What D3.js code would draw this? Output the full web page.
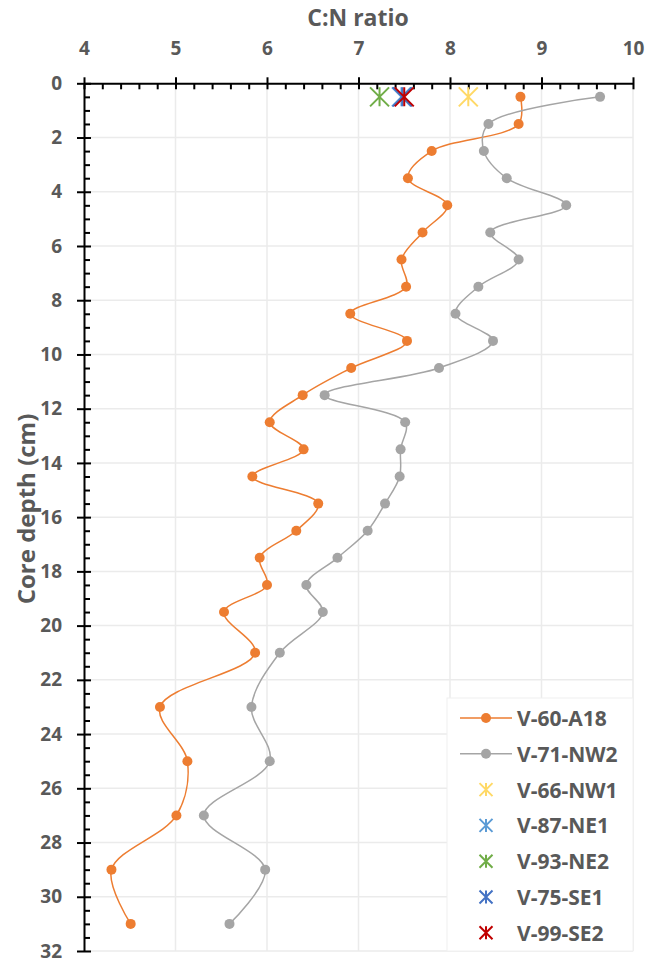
<!DOCTYPE html>
<html>
<head>
<meta charset="utf-8">
<script src="https://cdn.jsdelivr.net/npm/d3@7"></script>
<style>
  body { margin: 0; background: #fff; }
  text { font-family: "Open Sans", sans-serif; font-weight: bold; fill: #595959; }
</style>
</head>
<body>
<div id="chart"></div>
<script>

// depths of the two cores (cm)
var depths = [0.5, 1.5, 2.5, 3.5, 4.5, 5.5, 6.5, 7.5, 8.5, 9.5, 10.5, 11.5, 12.5, 13.5,
    14.5, 15.5, 16.5, 17.5, 18.5, 19.5, 21, 23, 25, 27, 29, 31];

var cnA18 = [8.77, 8.75, 7.80, 7.54, 7.97, 7.70, 7.47, 7.52, 6.91, 7.53, 6.92, 6.39, 6.03,
    6.40, 5.84, 6.56, 6.32, 5.92, 6.00, 5.53, 5.87, 4.83, 5.13, 5.01, 4.30, 4.51];

var cnNW2 = [9.64, 8.42, 8.37, 8.62, 9.27, 8.44, 8.75, 8.31, 8.06, 8.47, 7.88, 6.63, 7.51,
    7.46, 7.45, 7.29, 7.10, 6.77, 6.43, 6.61, 6.14, 5.83, 6.03, 5.31, 5.98, 5.59];

// surface samples, single value each
var surfNames = ["V-66-NW1", "V-87-NE1", "V-93-NE2", "V-75-SE1", "V-99-SE2"];
var surfValues = [8.20, 7.47, 7.23, 7.48, 7.50];
var surfDepth = 0.5;

var lineNames = ["V-60-A18", "V-71-NW2"];
var xTicks = [4, 5, 6, 7, 8, 9, 10];
var yTicks = d3.range(0, 33, 2);

var lineColors = ["#ED7D31", "#A5A5A5"];
var surfColors = ["#FFD966", "#5B9BD5", "#70AD47", "#4472C4", "#C00000"];

var svgWidth = 647;
var svgHeight = 961;

var svg = d3.select("#chart")
    .append("svg")
    .attr("width", svgWidth)
    .attr("height", svgHeight);

var x = d3.scaleLinear().domain([4, 10]).range([84, 633]);
var y = d3.scaleLinear().domain([0, 32]).range([83.3, 951]);

// gridlines
svg.append("g").selectAll("line")
    .data(xTicks.slice(1))
    .enter()
    .append("line")
    .attr("x1", d => x(d)).attr("x2", d => x(d))
    .attr("y1", y(0)).attr("y2", y(32))
    .attr("stroke", "#ebebeb")
    .attr("stroke-width", 1.5);

svg.append("g").selectAll("line")
    .data(yTicks.slice(1))
    .enter()
    .append("line")
    .attr("x1", x(4)).attr("x2", x(10))
    .attr("y1", d => y(d)).attr("y2", d => y(d))
    .attr("stroke", "#ebebeb")
    .attr("stroke-width", 1.5);

// minor ticks
var xMinor = d3.range(4, 10.001, 0.2).filter(v => Math.abs(v - Math.round(v)) > 0.01);
var yMinor = d3.range(0, 32.001, 0.5).filter(v => v % 2 !== 0);

svg.append("g")
    .attr("transform", `translate(0, ${y(0)})`)
    .call(d3.axisTop(x).tickValues(xMinor).tickSize(-6).tickSizeOuter(0).tickFormat(""))
    .call(g => g.select(".domain").remove())
    .selectAll("line").attr("stroke", "#000").attr("stroke-width", 2);

svg.append("g")
    .attr("transform", `translate(${x(4)}, 0)`)
    .call(d3.axisLeft(y).tickValues(yMinor).tickSize(-6).tickSizeOuter(0).tickFormat(""))
    .call(g => g.select(".domain").remove())
    .selectAll("line").attr("stroke", "#000").attr("stroke-width", 2);

// major axes
var xAxis = svg.append("g")
    .attr("transform", `translate(0, ${y(0)})`)
    .call(d3.axisTop(x).tickValues(xTicks).tickFormat(d3.format("d"))
        .tickSize(6).tickSizeOuter(0).tickPadding(22));

xAxis.selectAll(".tick line").attr("y1", 6);
xAxis.selectAll("line, path").attr("stroke", "#000").attr("stroke-width", 2);
xAxis.selectAll("text").attr("font-size", "19px").attr("fill", "#595959");

var yAxis = svg.append("g")
    .attr("transform", `translate(${x(4)}, 0)`)
    .call(d3.axisLeft(y).tickValues(yTicks).tickSize(7).tickSizeOuter(0).tickPadding(15));

yAxis.selectAll(".tick line").attr("x1", 7);
yAxis.selectAll("line, path").attr("stroke", "#000").attr("stroke-width", 2);
yAxis.selectAll("text").attr("font-size", "19px").attr("fill", "#595959");

// axis titles
svg.append("text")
    .attr("x", 358)
    .attr("y", 17)
    .attr("text-anchor", "middle")
    .attr("dominant-baseline", "central")
    .attr("font-size", "23px")
    .text("C:N ratio");

svg.append("text")
    .attr("transform", `translate(25, 509) rotate(-90)`)
    .attr("text-anchor", "middle")
    .attr("dominant-baseline", "central")
    .attr("font-size", "24px")
    .text("Core depth (cm)");

// smoothed lines with markers
var lineGen = d3.line()
    .x(d => x(d[1]))
    .y(d => y(d[0]))
    .curve(d3.curveCatmullRom.alpha(0.5));

[cnA18, cnNW2].forEach(function(vals, i) {
    var pts = depths.map((dep, j) => [dep, vals[j]]);
    svg.append("path")
        .datum(pts)
        .attr("d", lineGen)
        .attr("fill", "none")
        .attr("stroke", lineColors[i])
        .attr("stroke-width", 1.5);
    svg.append("g").selectAll("circle")
        .data(pts)
        .enter()
        .append("circle")
        .attr("cx", d => x(d[1]))
        .attr("cy", d => y(d[0]))
        .attr("r", 5)
        .attr("fill", lineColors[i]);
});

function star(s) {
    return `M${-s},${-s}L${s},${s}M${-s},${s}L${s},${-s}M0,${-s}L0,${s}`;
}

svg.append("g").selectAll("path")
    .data(surfValues)
    .enter()
    .append("path")
    .attr("transform", d => `translate(${x(d)}, ${y(surfDepth)})`)
    .attr("d", star(9.5))
    .attr("fill", "none")
    .attr("stroke", (d, i) => surfColors[i])
    .attr("stroke-width", 2);

// legend
var legend = svg.append("g");

legend.append("rect")
    .attr("x", 447).attr("y", 698)
    .attr("width", 186).attr("height", 253)
    .attr("fill", "#fff")
    .attr("stroke", "#f0f0f0");

var legendNames = lineNames.concat(surfNames);
var legendColors = lineColors.concat(surfColors);

legendNames.forEach(function(name, i) {
    var ly = 718 + i * 35.8;
    var row = legend.append("g").attr("transform", `translate(0, ${ly})`);
    if (i < 2) {
        row.append("line")
            .attr("x1", 460).attr("x2", 512)
            .attr("stroke", legendColors[i])
            .attr("stroke-width", 1.5);
        row.append("circle")
            .attr("cx", 486).attr("r", 5)
            .attr("fill", legendColors[i]);
    } else {
        row.append("path")
            .attr("transform", "translate(486, 0)")
            .attr("d", star(6.5))
            .attr("fill", "none")
            .attr("stroke", legendColors[i])
            .attr("stroke-width", 2);
    }
    row.append("text")
        .attr("x", 517)
        .attr("dominant-baseline", "central")
        .attr("font-size", "21px")
        .text(name);
});

</script>
</body>
</html>
